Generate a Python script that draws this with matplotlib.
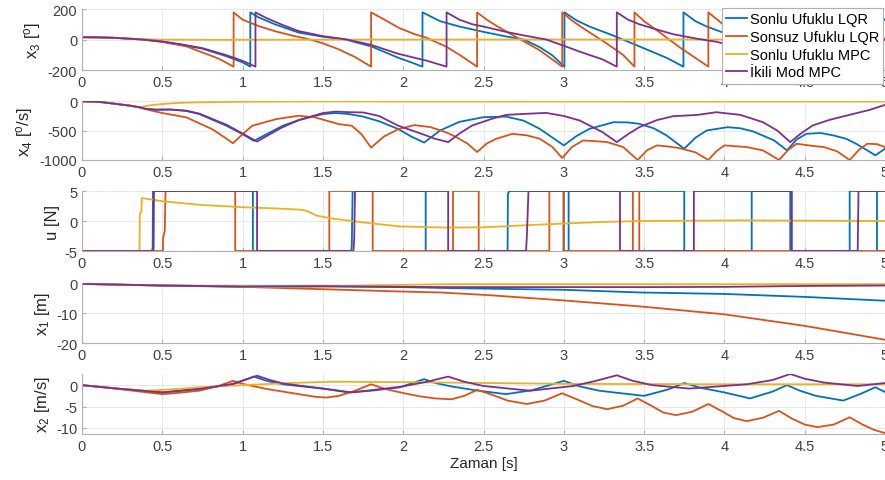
import numpy as np
import matplotlib
matplotlib.use('Agg')
import matplotlib.pyplot as plt

plt.rcParams['font.family'] = ['Liberation Sans', 'DejaVu Sans']
plt.rcParams['mathtext.fontset'] = 'custom'
plt.rcParams['mathtext.rm'] = 'Liberation Sans'
plt.rcParams['mathtext.it'] = 'Liberation Sans:italic'
plt.rcParams['axes.unicode_minus'] = False

names = ['Sonlu Ufuklu LQR', 'Sonsuz Ufuklu LQR', 'Sonlu Ufuklu MPC', 'İkili Mod MPC']
colors = ['#0072BD', '#D95319', '#EDB120', '#7E2F8E']

# x3 [deg]  (t, value) pairs
x3_lqr_f = [(0, 15), (0.1, 14), (0.2, 11), (0.3, 5), (0.38, 0), (0.5, -14), (0.62, -35), (0.75, -60),
            (0.9, -110), (1.0, -150), (1.048, -178), (1.048, 178), (1.1, 145), (1.2, 100), (1.35, 45),
            (1.5, 18), (1.64, 0), (1.8, -45), (1.97, -120), (2.05, -150), (2.12, -178), (2.12, 178),
            (2.23, 120), (2.35, 85), (2.5, 50), (2.64, 20), (2.75, 0), (2.85, -50), (2.93, -105),
            (3.004, -178), (3.004, 178), (3.08, 125), (3.16, 85), (3.31, 25), (3.47, -45), (3.64, -120),
            (3.745, -178), (3.745, 178), (3.82, 120), (3.89, 85), (3.98, 50), (4.1, 0), (4.18, -40),
            (4.31, -120), (4.39, -178), (4.39, 178), (4.51, 96), (4.6, 45), (4.68, 0), (4.82, -90),
            (4.94, -178), (4.94, 178), (5.0, 128)]
x3_lqr_i = [(0, 15), (0.1, 14), (0.2, 11), (0.3, 4), (0.38, -1), (0.5, -16), (0.65, -45), (0.75, -85),
            (0.85, -125), (0.944, -178), (0.944, 178), (1.0, 130), (1.1, 88), (1.2, 55), (1.3, 28),
            (1.42, 0), (1.5, -25), (1.6, -65), (1.7, -115), (1.8, -178), (1.8, 178), (1.9, 120),
            (1.97, 78), (2.07, 35), (2.14, 14), (2.27, -48), (2.35, -100), (2.46, -178), (2.46, 178),
            (2.52, 130), (2.58, 90), (2.68, 30), (2.85, -71), (2.99, -178), (2.99, 178), (3.05, 125),
            (3.12, 74), (3.27, -28), (3.37, -102), (3.44, -178), (3.44, 178), (3.5, 120), (3.58, 60),
            (3.72, -50), (3.9, -178), (3.9, 178), (4.0, 92), (4.14, -15), (4.24, -96), (4.34, -178),
            (4.34, 178), (4.45, 85), (4.62, -43), (4.78, -178), (4.78, 178), (4.89, 85), (5.0, 2)]
x3_mpc_f = [(0, 15), (0.1, 14), (0.2, 11), (0.3, 6), (0.38, 2), (0.5, -1), (0.8, -2), (1.5, -1),
            (2.5, 0), (5.0, 0)]
x3_mpc_d = [(0, 15), (0.1, 14), (0.2, 11), (0.3, 5), (0.38, 0), (0.5, -13), (0.62, -32), (0.75, -57),
            (0.9, -103), (1.0, -140), (1.08, -178), (1.08, 178), (1.15, 140), (1.25, 95), (1.35, 55),
            (1.5, 22), (1.65, 0), (1.8, -35), (1.97, -94), (2.15, -140), (2.27, -178), (2.27, 178),
            (2.35, 130), (2.43, 100), (2.5, 85), (2.64, 50), (2.75, 27), (2.89, 0), (3.0, -41),
            (3.1, -80), (3.24, -130), (3.33, -178), (3.33, 178), (3.4, 130), (3.47, 100), (3.58, 65),
            (3.68, 35), (3.83, 5), (3.95, -15), (4.1, -55), (4.24, -100), (4.33, -140), (4.41, -178),
            (4.41, 178), (4.48, 135), (4.55, 103), (4.72, 45), (4.82, 21), (5.0, -3)]

# x4 [deg/s]
x4_lqr_f = [(0, 0), (0.1, -8), (0.2, -40), (0.3, -75), (0.36, -103), (0.4, -131), (0.46, -143),
            (0.55, -140), (0.65, -165), (0.73, -217), (0.9, -417), (1.0, -560), (1.07, -674),
            (1.15, -560), (1.25, -417), (1.35, -320), (1.5, -217), (1.58, -200), (1.66, -217),
            (1.75, -260), (1.85, -340), (1.97, -474), (2.05, -600), (2.13, -703), (2.23, -497),
            (2.35, -350), (2.5, -271), (2.64, -260), (2.75, -330), (2.85, -469), (2.93, -620),
            (3.0, -751), (3.08, -590), (3.16, -469), (3.31, -356), (3.4, -360), (3.47, -384),
            (3.56, -460), (3.64, -582), (3.75, -808), (3.82, -620), (3.89, -497), (4.02, -441),
            (4.1, -460), (4.18, -514), (4.31, -667), (4.39, -836), (4.45, -650), (4.51, -554),
            (4.6, -540), (4.68, -582), (4.76, -640), (4.82, -723), (4.88, -820), (4.94, -921),
            (5.0, -808)]
x4_lqr_i = [(0, 0), (0.1, -8), (0.2, -40), (0.3, -75), (0.36, -103), (0.42, -150), (0.5, -200),
            (0.65, -274), (0.81, -474), (0.88, -600), (0.94, -714), (1.0, -560), (1.06, -417),
            (1.21, -303), (1.35, -246), (1.45, -274), (1.6, -389), (1.68, -417), (1.74, -560),
            (1.8, -789), (1.88, -600), (1.97, -474), (2.07, -406), (2.17, -440), (2.27, -531),
            (2.33, -610), (2.4, -720), (2.46, -864), (2.52, -720), (2.58, -638), (2.68, -554),
            (2.77, -580), (2.85, -638), (2.93, -780), (2.99, -966), (3.05, -780), (3.12, -667),
            (3.2, -680), (3.27, -695), (3.37, -780), (3.46, -1000), (3.52, -830), (3.58, -751),
            (3.65, -770), (3.72, -797), (3.82, -870), (3.9, -1000), (3.95, -850), (4.0, -751),
            (4.14, -780), (4.24, -836), (4.34, -1000), (4.4, -820), (4.45, -723), (4.55, -760),
            (4.62, -780), (4.7, -850), (4.78, -1000), (4.84, -820), (4.89, -723), (4.95, -730),
            (5.0, -780)]
x4_mpc_f = [(0, 0), (0.1, -8), (0.2, -40), (0.3, -75), (0.36, -103), (0.42, -70), (0.5, -46),
            (0.6, -28), (0.73, -17), (1.0, -8), (1.5, -2), (2.0, -4), (5.0, -5)]
x4_mpc_d = [(0, 0), (0.1, -8), (0.2, -40), (0.3, -75), (0.36, -103), (0.4, -131), (0.46, -143),
            (0.55, -140), (0.65, -160), (0.73, -210), (0.9, -400), (1.0, -550), (1.09, -686),
            (1.17, -560), (1.25, -440), (1.35, -320), (1.5, -200), (1.58, -175), (1.66, -185),
            (1.75, -190), (1.85, -250), (1.97, -417), (2.1, -540), (2.2, -640), (2.28, -695),
            (2.35, -550), (2.43, -412), (2.55, -300), (2.64, -232), (2.75, -215), (2.89, -198),
            (3.0, -250), (3.1, -328), (3.24, -525), (3.33, -695), (3.4, -560), (3.47, -441),
            (3.58, -320), (3.68, -254), (3.83, -232), (3.95, -186), (4.1, -232), (4.24, -356),
            (4.33, -500), (4.41, -695), (4.48, -540), (4.55, -412), (4.65, -320), (4.72, -271),
            (4.82, -203), (4.9, -150), (5.0, -62)]

# u [N]
u_lqr_f = [(0, -5), (0.435, -5), (0.44, -4.5), (0.442, 5), (1.064, 5), (1.064, -5), (1.677, -5),
           (1.68, -4), (1.685, 5), (2.14, 5), (2.14, -5), (2.65, -5), (2.652, 4.5), (2.66, 5),
           (3.0, 5), (3.0, -5), (3.03, -5), (3.03, 5), (3.75, 5), (3.75, -5), (4.17, -5), (4.17, 5),
           (4.41, 5), (4.41, -5), (4.78, -5), (4.78, 5), (4.95, 5), (4.95, -5), (5.0, -5)]
u_lqr_i = [(0, -5), (0.504, -5), (0.505, -2.8), (0.515, -1.7), (0.52, 5), (0.954, 5), (0.954, -5),
           (1.54, -5), (1.54, 5), (1.81, 5), (1.81, -5), (2.31, -5), (2.31, 5), (2.47, 5), (2.47, -5),
           (2.91, -5), (2.91, 5), (2.998, 5), (2.998, -5), (3.43, -5), (3.43, 5), (3.47, 5),
           (3.47, -5), (5.0, -5)]
u_mpc_f = [(0, -5), (0.358, -5), (0.36, 1.3), (0.37, 1.5), (0.372, 3.8), (0.38, 3.8), (0.5, 3.3),
           (0.73, 2.7), (1.0, 2.3), (1.2, 2.1), (1.35, 1.9), (1.4, 1.7), (1.46, 0.9), (1.56, 0.4),
           (1.77, -0.3), (1.98, -0.9), (2.27, -1.1), (2.5, -1.05), (2.85, -0.6), (3.2, -0.2),
           (3.47, 0.0), (4.1, 0.1), (5.0, 0.0)]
u_mpc_d = [(0, -5), (0.443, -5), (0.446, -4.5), (0.448, 5), (1.09, 5), (1.09, -5), (1.69, -5),
           (1.695, -3), (1.7, 5), (2.28, 5), (2.28, -5), (2.765, -5), (2.77, -2.5), (2.78, 5),
           (3.35, 5), (3.35, -5), (3.81, -5), (3.81, 5), (4.42, 5), (4.42, -5), (4.83, -5),
           (4.835, 5), (5.0, 5)]

# x1 [m]
x1_lqr_f = [(0, 0), (0.5, -0.55), (1.0, -0.9), (1.5, -0.8), (2.0, -1.1), (2.27, -1.4), (2.5, -1.6),
            (3.0, -2.0), (3.47, -2.9), (4.0, -3.4), (4.5, -4.4), (5.0, -5.7)]
x1_lqr_i = [(0, 0), (0.5, -0.6), (1.0, -1.0), (1.5, -1.8), (2.0, -2.6), (2.23, -2.9), (2.53, -3.8),
            (3.0, -5.6), (3.47, -7.6), (4.0, -10.3), (4.5, -14.2), (5.0, -18.9)]
x1_mpc_f = [(0, 0), (0.5, -0.5), (1.0, -0.9), (1.2, -1.1), (1.5, -0.9), (1.8, -0.5), (2.27, -0.1),
            (5.0, -0.1)]
x1_mpc_d = [(0, 0), (0.5, -0.55), (1.0, -0.9), (1.5, -0.8), (2.0, -1.0), (2.27, -1.1), (3.0, -1.1),
            (3.5, -1.1), (4.0, -1.0), (4.5, -0.7), (5.0, -0.55)]

# x2 [m/s]
x2_lqr_f = [(0, 0), (0.25, -0.9), (0.5, -1.7), (0.73, -0.9), (0.94, 0.2), (1.07, 2.0), (1.15, 1.0),
            (1.25, 0.2), (1.5, -0.8), (1.66, -1.7), (1.8, -1.3), (1.98, -0.5), (2.13, 1.4), (2.2, 0.5),
            (2.3, -0.3), (2.45, -1.2), (2.64, -2.1), (2.8, -1.2), (3.0, 1.0), (3.1, -0.3), (3.22, -1.3),
            (3.5, -2.5), (3.65, -1.0), (3.75, 0.5), (3.85, -0.6), (4.0, -1.7), (4.16, -3.1), (4.3, -1.5),
            (4.39, 0.0), (4.47, -1.3), (4.57, -2.5), (4.74, -3.6), (4.85, -2.0), (4.94, -0.5), (5.0, -1.6)]
x2_lqr_i = [(0, 0), (0.25, -1.0), (0.5, -2.1), (0.6, -1.8), (0.73, -1.3), (0.85, -0.2), (0.94, 1.0),
            (1.0, 0.3), (1.15, -0.9), (1.3, -1.8), (1.45, -2.7), (1.52, -2.9), (1.6, -2.5), (1.7, -1.3),
            (1.8, 0.2), (1.88, -0.8), (1.97, -1.6), (2.1, -2.6), (2.2, -3.1), (2.3, -3.3), (2.38, -2.5),
            (2.46, -1.1), (2.55, -2.2), (2.65, -3.6), (2.77, -4.4), (2.88, -3.6), (2.99, -1.9),
            (3.08, -3.3), (3.18, -4.9), (3.27, -5.6), (3.37, -4.8), (3.46, -3.1), (3.55, -4.9),
            (3.62, -6.4), (3.7, -7.0), (3.8, -6.2), (3.9, -4.4), (3.98, -6.0), (4.06, -7.7),
            (4.14, -8.4), (4.24, -7.6), (4.34, -6.0), (4.42, -7.8), (4.5, -9.2), (4.58, -9.8),
            (4.68, -9.2), (4.78, -7.5), (4.86, -9.2), (4.93, -10.4), (5.0, -11.2)]
x2_mpc_f = [(0, 0), (0.25, -0.9), (0.4, -1.3), (0.55, -1.0), (0.73, -0.5), (1.0, 0.0), (1.3, 0.5),
            (1.56, 0.8), (2.0, 0.7), (2.27, 0.6), (3.0, 0.3), (4.0, 0.2), (5.0, 0.2)]
x2_mpc_d = [(0, 0), (0.25, -0.9), (0.5, -1.7), (0.73, -0.9), (0.94, 0.3), (1.09, 2.2), (1.17, 1.2),
            (1.25, 0.4), (1.5, -0.8), (1.68, -1.7), (1.98, -0.4), (2.15, 0.8), (2.28, 2.0), (2.38, 0.8),
            (2.5, -0.2), (2.79, -1.3), (3.06, -0.2), (3.2, 1.0), (3.33, 2.3), (3.43, 1.0), (3.55, 0.0),
            (3.78, -0.8), (4.14, 0.2), (4.3, 1.2), (4.41, 2.6), (4.5, 1.5), (4.62, 0.6), (4.83, -0.2),
            (5.0, 0.5)]

panels = [
    ([x3_lqr_f, x3_lqr_i, x3_mpc_f, x3_mpc_d], r'x$_{3}$ [$^{\rm o}$]', (-200, 200), [-200, 0, 200]),
    ([x4_lqr_f, x4_lqr_i, x4_mpc_f, x4_mpc_d], r'x$_{4}$ [$^{\rm o}$/s]', (-1000, 5), [-1000, -500, 0]),
    ([u_lqr_f, u_lqr_i, u_mpc_f, u_mpc_d], 'u [N]', (-5, 5), [-5, 0, 5]),
    ([x1_lqr_f, x1_lqr_i, x1_mpc_f, x1_mpc_d], r'x$_{1}$ [m]', (-20, 0.3), [-20, -10, 0]),
    ([x2_lqr_f, x2_lqr_i, x2_mpc_f, x2_mpc_d], r'x$_{2}$ [m/s]', (-11.4, 2.6), [-10, -5, 0]),
]
# pixel rows (top, bottom) of each axes
rows = [(10, 71), (102, 161), (192, 252), (284, 344), (375, 435)]

W, H = 885, 481
fig = plt.figure(figsize=(W / 100, H / 100), dpi=100)
xt = np.arange(0, 5.01, 0.5)
axes = []
for (series, ylab, ylim, yt), (top, bot) in zip(panels, rows):
    ax = fig.add_axes([82 / W, 1 - bot / H, (W - 82) / W, (bot - top) / H])
    for pts, c, n in zip(series, colors, names):
        arr = np.array(pts, dtype=float)
        ax.plot(arr[:, 0], arr[:, 1], color=c, lw=1.3, label=n)
    ax.set_xlim(0, 5)
    ax.set_ylim(*ylim)
    ax.set_xticks(xt)
    ax.set_xticklabels(['%g' % v for v in xt])
    ax.set_yticks(yt)
    ax.set_ylabel(ylab, fontsize=12, color='#262626', labelpad=3)
    ax.grid(True, color='#e8e8e8', lw=0.7)
    ax.set_axisbelow(True)
    for s in ['top', 'right']:
        ax.spines[s].set_visible(False)
    for s in ['left', 'bottom']:
        ax.spines[s].set_color('#b0b0b0')
    ax.tick_params(direction='in', length=3, color='#b0b0b0', labelcolor='#404040', labelsize=10.5)
    axes.append(ax)

# dashed input limits on u panel
axes[2].axhline(5, color='#a8bbcc', ls='--', lw=0.8, zorder=0)
axes[2].axhline(-5, color='#a8bbcc', ls='--', lw=0.8, zorder=0)

axes[-1].set_xlabel('Zaman [s]', fontsize=11, color='#262626', labelpad=2)

leg = axes[0].legend(loc='upper left', bbox_to_anchor=(722 / W, 1 - 9 / H), bbox_transform=fig.transFigure,
                     fontsize=10.5, frameon=True, fancybox=False, framealpha=1, edgecolor='#b0b0b0',
                     handlelength=1.4, handletextpad=0.2, labelspacing=0.25, borderpad=0.3,
                     borderaxespad=0)
leg.get_frame().set_linewidth(0.8)
leg.set_zorder(20)

fig.savefig('out.png', dpi=100)
